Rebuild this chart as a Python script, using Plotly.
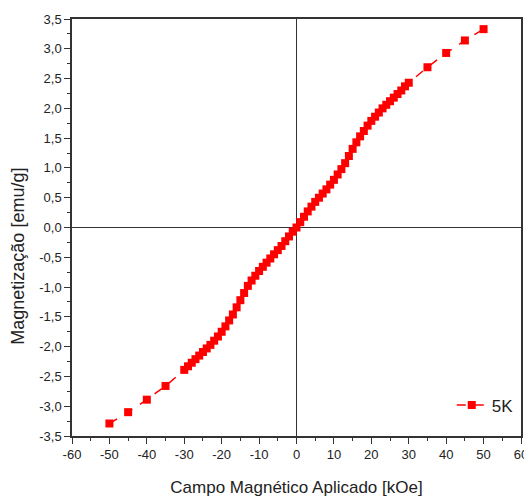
import plotly.graph_objects as go

# applied field [kOe] and magnetization [emu/g] at 5 K
field = [-50, -45, -40, -35,
         -30, -29, -28, -27, -26, -25, -24, -23, -22, -21, -20,
         -19, -18, -17, -16, -15, -14, -13, -12, -11, -10,
         -9, -8, -7, -6, -5, -4, -3, -2, -1, 0,
         1, 2, 3, 4, 5, 6, 7, 8, 9, 10,
         11, 12, 13, 14, 15, 16, 17, 18, 19, 20,
         21, 22, 23, 24, 25, 26, 27, 28, 29, 30,
         35, 40, 45, 50]
magnet = [-3.29, -3.10, -2.89, -2.66,
          -2.39, -2.33, -2.27, -2.21, -2.15, -2.09, -2.03, -1.97, -1.90, -1.83, -1.75,
          -1.66, -1.56, -1.46, -1.34, -1.22, -1.10, -0.98, -0.89, -0.81, -0.73,
          -0.66, -0.59, -0.52, -0.45, -0.38, -0.31, -0.23, -0.15, -0.07, 0.00,
          0.09, 0.18, 0.27, 0.35, 0.43, 0.50, 0.57, 0.64, 0.72, 0.80,
          0.89, 0.98, 1.08, 1.20, 1.32, 1.43, 1.53, 1.62, 1.71, 1.79,
          1.86, 1.93, 2.00, 2.06, 2.12, 2.18, 2.24, 2.30, 2.37, 2.43,
          2.69, 2.93, 3.14, 3.33]

# tick labels as printed (hyphen minus, decimal comma)
x_ticks = [-60, -50, -40, -30, -20, -10, 0, 10, 20, 30, 40, 50, 60]
x_labels = ["-60", "-50", "-40", "-30", "-20", "-10", "0", "10", "20", "30", "40", "50", "60"]
y_ticks = [-3.5, -3.0, -2.5, -2.0, -1.5, -1.0, -0.5, 0.0, 0.5, 1.0, 1.5, 2.0, 2.5, 3.0, 3.5]
y_labels = ["-3,5", "-3,0", "-2,5", "-2,0", "-1,5", "-1,0", "-0,5", "0,0",
            "0,5", "1,0", "1,5", "2,0", "2,5", "3,0", "3,5"]

red = "#FF0000"
ink = "#222222"
font = "Liberation Sans, Arial, sans-serif"

fig = go.Figure()
fig.add_trace(
    go.Scatter(
        x=field,
        y=magnet,
        mode="lines+markers",
        name="5K",
        line=dict(color=red, width=1.5, dash="dash"),
        marker=dict(symbol="square", size=8, color=red),
    )
)

axis_common = dict(
    showline=True,
    linecolor="#333333",
    linewidth=1.5,
    mirror=True,
    showgrid=False,
    zeroline=True,
    zerolinecolor="#333333",
    zerolinewidth=1.2,
    ticks="outside",
    ticklen=6,
    tickwidth=1,
    tickcolor="#333333",
    tickfont=dict(family=font, size=13, color=ink),
    automargin=False,
)

fig.update_xaxes(
    **axis_common,
    range=[-60, 60],
    tickmode="array",
    tickvals=x_ticks,
    ticktext=x_labels,
    minor=dict(ticks="outside", ticklen=3, dtick=5, tickcolor="#333333"),
    title=dict(text="Campo Magnético Aplicado [kOe]",
               font=dict(family=font, size=17, color=ink), standoff=20),
)
fig.update_yaxes(
    **axis_common,
    range=[-3.5, 3.5],
    tickmode="array",
    tickvals=y_ticks,
    ticktext=y_labels,
    minor=dict(ticks="outside", ticklen=3, dtick=0.25, tickcolor="#333333"),
)

# y title sits a little below the middle of the axis in the original
fig.add_annotation(
    text="Magnetização [emu/g]",
    xref="paper", yref="paper",
    x=0, y=0.43,
    xanchor="center", yanchor="middle",
    xshift=-54,
    textangle=-90,
    showarrow=False,
    font=dict(family=font, size=18, color=ink),
)

# the page adds an 8 px body margin, so the figure is sized to fit inside it
fig.update_layout(
    width=524,
    height=493,
    margin=dict(l=64, r=11, t=11, b=65),
    plot_bgcolor="white",
    paper_bgcolor="white",
    showlegend=True,
    legend=dict(x=0.995, y=0.03, xanchor="right", yanchor="bottom",
                bgcolor="rgba(0,0,0,0)",
                font=dict(family=font, size=17, color=ink)),
)

fig.write_html("out.html")
